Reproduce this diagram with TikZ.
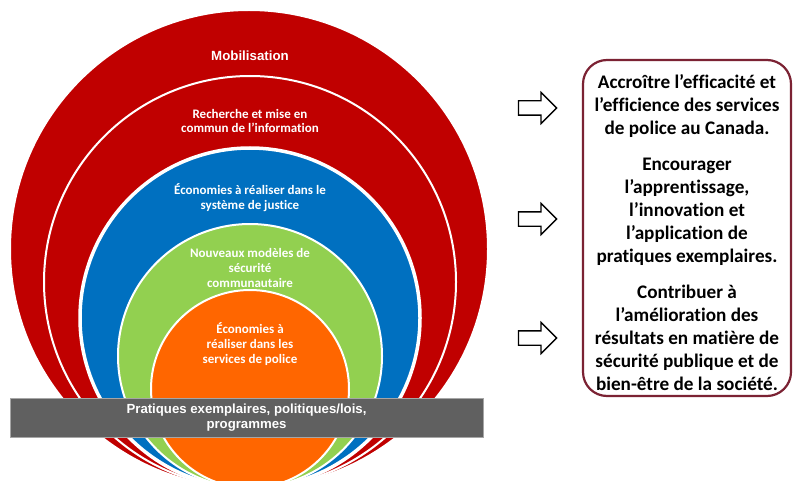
\documentclass[tikz,border=0pt]{standalone}
\usepackage{fontspec}
\setmainfont{Carlito}[Ligatures={NoCommon}]
\newfontfamily\arialf{Liberation Sans}
\usetikzlibrary{shapes.arrows}
\definecolor{cred}{HTML}{C00000}
\definecolor{cblue}{HTML}{0070C0}
\definecolor{cgreen}{HTML}{92D050}
\definecolor{corange}{HTML}{FF6600}
\definecolor{cbar}{HTML}{606060}
\definecolor{cbarline}{HTML}{A6A6A6}
\definecolor{cmaroon}{HTML}{7B2233}
\tikzset{
  ring/.style={circle, draw=white, line width=2pt, inner sep=0pt},
  lab/.style={align=center, text=white, font=\bfseries\fontsize{13}{14.8}\selectfont, inner sep=0pt},
  blockarrow/.style={single arrow, draw=black, fill=white, line width=1.3pt, minimum height=38pt, single arrow head extend=8.5pt, single arrow head indent=0pt, inner sep=0pt},
  goalbox/.style={draw=cmaroon, line width=2.2pt, rounded corners=24pt, minimum width=208pt, minimum height=336pt, align=center, inner sep=0pt, font=\bfseries\fontsize{19.2}{23}\selectfont}
}
\begin{document}
\begin{tikzpicture}[x=1pt,y=-1pt]
\useasboundingbox (0,0) rectangle (797,481);
\clip (0,0) rectangle (797,481);
\fill[white] (0,0) rectangle (797,481);
% rings
\node[ring, fill=cred, minimum size=478pt] (mob) at (249,249) {};
\node[ring, fill=cred, minimum size=412pt] (rech) at (250,282) {};
\node[ring, fill=cblue, line width=3.5pt, minimum size=340pt] (just) at (250,318) {};
\node[ring, fill=cgreen, minimum size=264pt] (comm) at (250,356) {};
\node[ring, fill=corange, minimum size=198pt] (pol) at (250,389) {};
% labels
\node[lab, font=\arialf\bfseries\fontsize{13.3}{15}\selectfont] (tmob) at (250,56) {Mobilisation};
\node[lab] (trech) at (250,121) {Recherche et mise en\\commun de l’information};
\node[lab] (tjust) at (250,198) {Économies à réaliser dans le\\système de justice};
\node[lab] (tcomm) at (250,268) {Nouveaux modèles de\\sécurité\\communautaire};
\node[lab] (tpol) at (250,344) {Économies à\\réaliser dans les\\services de police};
% bar
\node[draw=cbarline, line width=0.8pt, fill=cbar, minimum width=473pt, minimum height=39pt, inner sep=0pt, align=center, text=white, font=\arialf\bfseries\fontsize{13.2}{15}\selectfont] (bar) at (246.5,417.5) {Pratiques exemplaires, politiques/lois,\\programmes};
% arrows
\node[blockarrow] (a1) at (534,108) {\rule{0pt}{13pt}};
\node[blockarrow] (a2) at (534,219) {\rule{0pt}{13pt}};
\node[blockarrow] (a3) at (534,338) {\rule{0pt}{13pt}};
% goals box
\node[goalbox] (goals) at (687,228) {\rule{0pt}{23pt}Accroître l’efficacité et\\l’efficience des services\\de police au Canada.\\[13pt]Encourager\\l’apprentissage,\\l’innovation et\\l’application de\\pratiques exemplaires.\\[13pt]Contribuer à\\l’amélioration des\\résultats en matière de\\sécurité publique et de\\bien-être de la société.};
\end{tikzpicture}
\end{document}
